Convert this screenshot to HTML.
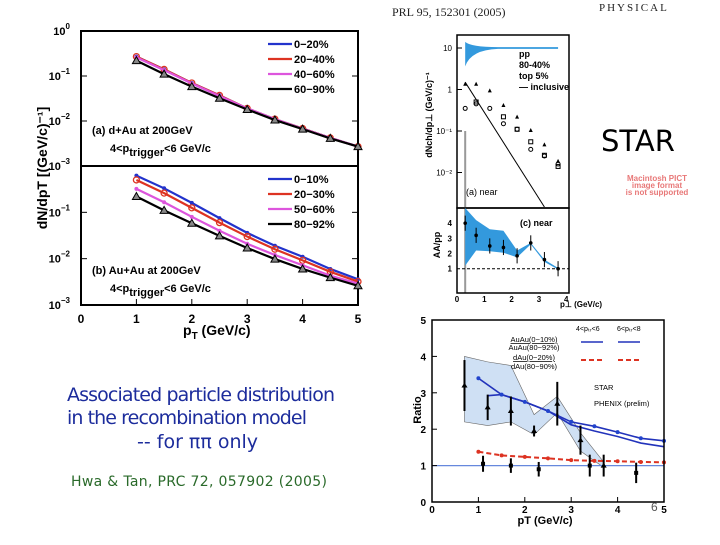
<!DOCTYPE html>
<html><head><meta charset="utf-8"><style>
body{margin:0;background:#fff;}
svg text{font-family:"Liberation Sans",sans-serif;}
</style></head><body>
<svg id="s" width="720" height="540" xmlns="http://www.w3.org/2000/svg">
<g id="left"></g>
<g id="star"></g>
<g id="ratio"></g>
<text x="67" y="401" font-size="19" fill="#1c2c9c" style="font-family:'DejaVu Sans',sans-serif" textLength="268">Associated particle distribution</text>
<text x="67" y="424" font-size="19" fill="#1c2c9c" style="font-family:'DejaVu Sans',sans-serif" textLength="240">in the recombination model</text>
<text x="137" y="448" font-size="19" fill="#1c2c9c" style="font-family:'DejaVu Sans',sans-serif">-- for ππ only</text>
<text x="71" y="486" font-size="14" fill="#2a6a2a" style="font-family:'DejaVu Sans',sans-serif" textLength="256">Hwa &amp; Tan, PRC 72, 057902 (2005)</text>
<text x="601" y="151" font-size="29" fill="#000" style="font-family:'DejaVu Sans',sans-serif">STAR</text>
<text x="657" y="181" font-size="8" fill="#e87878" text-anchor="middle" font-weight="bold">Macintosh PICT</text>
<text x="657" y="188" font-size="8" fill="#e87878" text-anchor="middle" font-weight="bold">image format</text>
<text x="657" y="195" font-size="8" fill="#e87878" text-anchor="middle" font-weight="bold">is not supported</text>
<text x="392" y="16" font-size="12" fill="#222" style="font-family:'Liberation Serif',serif">PRL 95, 152301 (2005)</text>
<text x="599" y="11" font-size="11" fill="#222" style="font-family:'Liberation Serif',serif" letter-spacing="2">PHYSICAL</text>
<text x="651" y="511" font-size="12" fill="#555">6</text>
</svg>
<script>
const NS="http://www.w3.org/2000/svg";
// ---- left chart data ----
const ptVals=[1,1.5,2,2.5,3,3.5,4,4.5,5];
const dAuLabels=["0−20%","20−40%","40−60%","60−90%"];
const dAu0=[0.27,0.14,0.07,0.037,0.019,0.011,0.0068,0.0042,0.0027];
const dAu1=[0.27,0.14,0.07,0.037,0.019,0.011,0.0068,0.0042,0.0027];
const dAu2=[0.26,0.135,0.068,0.036,0.019,0.011,0.0067,0.0042,0.0027];
const dAu3=[0.22,0.11,0.058,0.032,0.018,0.0105,0.0066,0.0041,0.0027];
const AuAuLabels=["0−10%","20−30%","50−60%","80−92%"];
const AuAu0=[0.62,0.33,0.16,0.075,0.036,0.019,0.011,0.006,0.0036];
const AuAu1=[0.5,0.26,0.125,0.06,0.03,0.016,0.0092,0.0052,0.0032];
const AuAu2=[0.32,0.165,0.08,0.04,0.021,0.012,0.0072,0.0043,0.0029];
const AuAu3=[0.22,0.11,0.058,0.031,0.017,0.0098,0.006,0.0039,0.0026];
const xTicks=[0,1,2,3,4,5];
// ---- ratio chart data ----
const rLine46x=[1.2,1.5,2,2.5,3,3.5,4,4.5,5];
const rLine46=[2.92,2.95,2.75,2.5,2.12,1.95,1.8,1.62,1.52];
const rLine68x=[1,1.5,2,2.5,3,3.5,4,4.5,5];
const rLine68=[3.4,2.95,2.75,2.5,2.2,2.08,1.92,1.75,1.68];
const rDAux=[1,1.5,2,2.5,3,3.5,4,4.5,5];
const rDAu=[1.38,1.28,1.24,1.2,1.15,1.13,1.12,1.1,1.09];
const starX=[0.7,1.2,1.7,2.2,2.7,3.2,3.7];
const starY=[3.2,2.6,2.5,1.95,2.7,1.7,1.0];
const starErr=[0.7,0.35,0.4,0.15,0.6,0.4,0.3];
const phenX=[1.1,1.7,2.3,3.4,4.4];
const phenY=[1.05,1.0,0.9,1.0,0.8];
const phenErr=[0.22,0.2,0.2,0.3,0.28];
const bandX=[0.7,1.2,1.7,2.2,2.7,3.2,3.7];
const bandHi=[4.0,3.85,3.75,2.4,2.9,1.9,1.1];
const bandLo=[2.2,2.1,2.2,1.85,2.45,1.4,0.95];
// ---- STAR chart data ----
const sPpX=[0.3,0.7,1.2,1.7,2.2,2.7,3.2,3.7];
const sPp=[0.35,0.45,0.35,0.15,0.11,0.036,0.025,0.016];
const sMidX=[0.7,1.7,2.2,2.7,3.2,3.7];
const sMid=[0.5,0.22,0.11,0.055,0.026,0.014];
const sTopX=[0.3,0.7,1.2,1.7,2.2,2.7,3.2,3.7];
const sTop=[1.3,1.3,0.9,0.4,0.21,0.1,0.045,0.018];
const cX=[0.3,0.7,1.2,1.7,2.2,2.7,3.2,3.7];
const cY=[4.0,3.2,2.5,2.4,1.85,2.7,1.6,1.0];
const cBandHi=[5,4.2,3.6,3.5,2.2,2.7,1.6,1.05];
const cBandLo=[1.2,2.2,2.15,2.05,1.75,2.6,1.45,0.95];

function el(parent,tag,attrs,name,inter){const e=document.createElementNS(NS,tag);for(const k in attrs)e.setAttribute(k,attrs[k]);


parent.appendChild(e);return e;}
function txt(p,x,y,s,opt,name){const t=el(p,'text',Object.assign({x:x,y:y},opt||{}),name,false);t.textContent=s;return t;}

// ===== left chart =====
const L=document.getElementById('left');
const lx=v=>81+v*(358-81)/5;
const panels=[{top:31,bot:166,labels:dAuLabels,series:[dAu0,dAu1,dAu2,dAu3],tag:"(a) d+Au at 200GeV",name:'dau'},
              {top:166,bot:305,labels:AuAuLabels,series:[AuAu0,AuAu1,AuAu2,AuAu3],tag:"(b) Au+Au at 200GeV",name:'auau'}];
const cols=["#2233cc","#dd3322","#dd55dd","#000"];
panels.forEach((P,pi)=>{
  const ly=v=>P.top+(-Math.log10(v))*(P.bot-P.top)/3;
  el(L,'rect',{x:81,y:P.top,width:277,height:P.bot-P.top,fill:'none',stroke:'#000','stroke-width':2},P.name+'-frame');
  for(let d=0;d<=3;d++){
    const y=P.top+d*(P.bot-P.top)/3;
    if(!(pi==1&&d==0)){const t=txt(L,70,y+4,"10",{'font-size':11,'font-weight':'bold','text-anchor':'end'},P.name+'-ytick-label');
      const s=document.createElementNS(NS,'tspan');s.setAttribute('dy','-6');s.setAttribute('font-size','8');s.textContent=d==0?"0":"−"+d;t.appendChild(s);}
    el(L,'line',{x1:81,x2:87,y1:y,y2:y,stroke:'#000'},P.name+'-ytick');
    el(L,'line',{x1:352,x2:358,y1:y,y2:y,stroke:'#000'},P.name+'-ytick');
  }
  P.series.forEach((ser,si)=>{
    const pts=ser.map((v,i)=>lx(ptVals[i])+','+ly(v)).join(' ');
    el(L,'polyline',{points:pts,fill:'none',stroke:cols[si],'stroke-width':2.2},P.name+'-line-'+si);
    ser.forEach((v,i)=>{const x=lx(ptVals[i]),y=ly(v);
      if(si==3)el(L,'polygon',{points:`${x},${y-4} ${x-4},${y+3} ${x+4},${y+3}`,fill:'#888',stroke:'#000'},P.name+'-marker');
      else if(si==1)el(L,'circle',{cx:x,cy:y,r:3,fill:'none',stroke:cols[si],'stroke-width':1.3},P.name+'-marker');
      else el(L,'circle',{cx:x,cy:y,r:2,fill:cols[si]},P.name+'-marker');});
  });
  P.labels.forEach((lab,i)=>{const y=P.top+13+i*15;
    el(L,'line',{x1:268,x2:292,y1:y,y2:y,stroke:cols[i],'stroke-width':2.2},P.name+'-legend-line');
    txt(L,294,y+4,lab,{'font-size':11,'font-weight':'bold'},P.name+'-legend-entry');});
  txt(L,92,P.top+(pi?108:103),P.tag,{'font-size':11,'font-weight':'bold'},P.name+'-panel-label');
  const t=txt(L,110,P.top+(pi?126:121),"4<p",{'font-size':11,'font-weight':'bold'},P.name+'-trigger-label');
  const s1=document.createElementNS(NS,'tspan');s1.setAttribute('dy','4');s1.textContent='trigger';t.appendChild(s1);
  const s2=document.createElementNS(NS,'tspan');s2.setAttribute('dy','-4');s2.textContent='<6 GeV/c';t.appendChild(s2);
});
xTicks.forEach(v=>{txt(L,lx(v),323,v,{'font-size':12,'font-weight':'bold','text-anchor':'middle'},'left-xtick-label');
  el(L,'line',{x1:lx(v),x2:lx(v),y1:299,y2:305,stroke:'#000'},'left-xtick');});
{const t=txt(L,183,335,"p",{'font-size':14,'font-weight':'bold'},'left-x-axis-title');const s=document.createElementNS(NS,'tspan');s.setAttribute('dy','4');s.setAttribute('font-size','10');s.textContent='T';t.appendChild(s);const s2=document.createElementNS(NS,'tspan');s2.setAttribute('dy','-4');s2.textContent=' (GeV/c)';t.appendChild(s2);}
txt(L,0,0,"dN/dpT [(GeV/c)⁻¹]",{'font-size':14,'font-weight':'bold','text-anchor':'middle',transform:'translate(47,168) rotate(-90)'},'left-y-axis-title');

// ===== STAR chart =====
const S=document.getElementById('star');
const sx=v=>457+v*(569-457)/4.1;
const sy=v=>48+(1-Math.log10(v))*41.5;
el(S,'rect',{x:457,y:35,width:112,height:173,fill:'none',stroke:'#000','stroke-width':1.5},'star-top-frame');
el(S,'path',{d:`M${sx(0.3)},${sy(14)} Q${sx(0.5)},${sy(10.5)} ${sx(1.5)},${sy(10.5)} L${sx(3.7)},${sy(10.5)} L${sx(3.7)},${sy(9.5)} L${sx(1.5)},${sy(9.5)} Q${sx(0.5)},${sy(9)} ${sx(0.3)},${sy(3.6)}Z`,fill:'#3399dd'},'star-pp-band');
el(S,'line',{x1:sx(0.3),y1:sy(1.5),x2:sx(3.2),y2:207,stroke:'#000'},'star-inclusive-line');
el(S,'line',{x1:sx(0.3),y1:sy(0.1),x2:sx(0.3),y2:293,stroke:'#999','stroke-width':2},'star-grey-bar');
sPp.forEach((v,i)=>el(S,'circle',{cx:sx(sPpX[i]),cy:sy(v),r:2,fill:'none',stroke:'#000'},'star-pp-marker'));
sMid.forEach((v,i)=>el(S,'rect',{x:sx(sMidX[i])-2,y:sy(v)-2,width:4,height:4,fill:'none',stroke:'#000'},'star-mid-marker'));
sTop.forEach((v,i)=>el(S,'polygon',{points:`${sx(sTopX[i])},${sy(v)-3} ${sx(sTopX[i])-2},${sy(v)+1} ${sx(sTopX[i])+2},${sy(v)+1}`,fill:'#000'},'star-top-marker'));
[[10,"10"],[1,"1"],[0.1,"10⁻¹"],[0.01,"10⁻²"]].forEach(([v,l])=>{txt(S,452,sy(v)+3,l,{'font-size':8,'text-anchor':'end'},'star-ytick-label');el(S,'line',{x1:457,x2:462,y1:sy(v),y2:sy(v),stroke:'#000'},'star-ytick');});
["pp","80-40%","top 5%","— inclusive"].forEach((l,i)=>txt(S,519,57+i*11,l,{'font-size':9,'font-weight':'bold'},'star-legend-entry'));
txt(S,466,195,"(a) near",{'font-size':9},'star-panel-a');
const cy=v=>208+(5-v)*(293-208)/5.6;
el(S,'rect',{x:457,y:208,width:112,height:85,fill:'none',stroke:'#000','stroke-width':1.5},'star-bottom-frame');
el(S,'path',{d:'M'+cX.map((x,i)=>sx(x)+','+cy(cBandHi[i])).join(' L')+' L'+cX.slice().reverse().map((x,i)=>sx(x)+','+cy(cBandLo[cX.length-1-i])).join(' L')+'Z',fill:'#3399dd'},'star-ratio-band');
el(S,'line',{x1:457,x2:569,y1:cy(1),y2:cy(1),stroke:'#000','stroke-dasharray':'3,2'},'star-unity-line');
cY.forEach((v,i)=>{el(S,'line',{x1:sx(cX[i]),x2:sx(cX[i]),y1:cy(v+0.5),y2:cy(v-0.5),stroke:'#000'},'star-errbar');el(S,'circle',{cx:sx(cX[i]),cy:cy(v),r:1.8,fill:'#000'},'star-ratio-marker');});
[1,2,3,4].forEach(v=>txt(S,452,cy(v)+3,v,{'font-size':8,'font-weight':'bold','text-anchor':'end'},'star-c-ytick-label'));
txt(S,520,226,"(c) near",{'font-size':9,'font-weight':'bold'},'star-panel-c');
[0,1,2,3,4].forEach(v=>txt(S,sx(v),302,v,{'font-size':8,'font-weight':'bold','text-anchor':'middle'},'star-xtick-label'));
txt(S,560,307,"p⊥   (GeV/c)",{'font-size':8,'font-weight':'bold'},'star-x-axis-title');
txt(S,0,0,"dNch/dp⊥   (GeV/c)⁻¹",{'font-size':9,'font-weight':'bold','text-anchor':'middle',transform:'translate(432,115) rotate(-90)'},'star-y-axis-title');
txt(S,0,0,"AA/pp",{'font-size':9,'font-weight':'bold','text-anchor':'middle',transform:'translate(440,245) rotate(-90)'},'star-c-y-axis-title');

// ===== ratio chart =====
const R=document.getElementById('ratio');
const rx=v=>432+v*(664-432)/5;
const ry=v=>502-v*(502-320)/5;
el(R,'path',{d:'M'+bandX.map((x,i)=>rx(x)+','+ry(bandHi[i])).join(' L')+' L'+bandX.slice().reverse().map((x,i)=>rx(x)+','+ry(bandLo[bandX.length-1-i])).join(' L')+'Z',fill:'#cfe0f4',stroke:'#666','stroke-width':0.6},'ratio-star-band');
el(R,'line',{x1:rx(0),x2:rx(5),y1:ry(1),y2:ry(1),stroke:'#6688dd','stroke-width':1.3},'ratio-unity-line');
el(R,'polyline',{points:rLine46x.map((x,i)=>rx(x)+','+ry(rLine46[i])).join(' '),fill:'none',stroke:'#2233bb','stroke-width':1.6},'ratio-line-4-6');
el(R,'polyline',{points:rLine68x.map((x,i)=>rx(x)+','+ry(rLine68[i])).join(' '),fill:'none',stroke:'#2233bb','stroke-width':1.6},'ratio-line-6-8');
rLine68.forEach((v,i)=>el(R,'circle',{cx:rx(rLine68x[i]),cy:ry(v),r:2,fill:'#2244cc'},'ratio-6-8-marker'));
el(R,'polyline',{points:rDAux.map((x,i)=>rx(x)+','+ry(rDAu[i])).join(' '),fill:'none',stroke:'#dd3322','stroke-width':2,'stroke-dasharray':'5,3'},'ratio-dau-line');
rDAu.forEach((v,i)=>el(R,'circle',{cx:rx(rDAux[i]),cy:ry(v),r:2,fill:'#dd3322'},'ratio-dau-marker'));
starY.forEach((v,i)=>{el(R,'line',{x1:rx(starX[i]),x2:rx(starX[i]),y1:ry(v+starErr[i]),y2:ry(v-starErr[i]),stroke:'#000','stroke-width':2},'ratio-star-errbar');
  el(R,'polygon',{points:`${rx(starX[i])},${ry(v)-3} ${rx(starX[i])-3},${ry(v)+2} ${rx(starX[i])+3},${ry(v)+2}`,fill:'#000'},'ratio-star-marker');});
phenY.forEach((v,i)=>{el(R,'line',{x1:rx(phenX[i]),x2:rx(phenX[i]),y1:ry(v+phenErr[i]),y2:ry(v-phenErr[i]),stroke:'#000','stroke-width':2},'ratio-phenix-errbar');
  el(R,'rect',{x:rx(phenX[i])-2,y:ry(v)-2,width:4,height:4,fill:'#000'},'ratio-phenix-marker');});
el(R,'rect',{x:432,y:320,width:232,height:182,fill:'none',stroke:'#000','stroke-width':1.5},'ratio-frame');
[0,1,2,3,4,5].forEach(v=>{txt(R,rx(v),513,v,{'font-size':10,'font-weight':'bold','text-anchor':'middle'},'ratio-xtick-label');
  txt(R,426,ry(v)+4,v,{'font-size':10,'font-weight':'bold','text-anchor':'end'},'ratio-ytick-label');
  el(R,'line',{x1:432,x2:437,y1:ry(v),y2:ry(v),stroke:'#000'},'ratio-ytick');
  el(R,'line',{x1:rx(v),x2:rx(v),y1:497,y2:502,stroke:'#000'},'ratio-xtick');});
txt(R,545,524,"pT (GeV/c)",{'font-size':11,'font-weight':'bold','text-anchor':'middle'},'ratio-x-axis-title');
txt(R,0,0,"Ratio",{'font-size':11,'font-weight':'bold','text-anchor':'middle',transform:'translate(421,410) rotate(-90)'},'ratio-y-axis-title');
txt(R,534,342,"AuAu(0−10%)",{'font-size':7.5,'text-anchor':'middle','text-decoration':'underline'},'ratio-legend-text');
txt(R,534,350,"AuAu(80−92%)",{'font-size':7.5,'text-anchor':'middle'},'ratio-legend-text');
txt(R,534,360,"dAu(0−20%)",{'font-size':7.5,'text-anchor':'middle','text-decoration':'underline'},'ratio-legend-text');
txt(R,534,369,"dAu(80−90%)",{'font-size':7.5,'text-anchor':'middle'},'ratio-legend-text');
txt(R,576,331,"4<pₜᵣ<6",{'font-size':7},'ratio-legend-header');
txt(R,617,331,"6<pₜᵣ<8",{'font-size':7},'ratio-legend-header');
el(R,'line',{x1:581,x2:603,y1:342,y2:342,stroke:'#2233bb','stroke-width':1.5},'ratio-legend-line');
el(R,'line',{x1:618,x2:640,y1:342,y2:342,stroke:'#2233bb','stroke-width':1.5},'ratio-legend-line');
el(R,'line',{x1:581,x2:603,y1:360,y2:360,stroke:'#dd3322','stroke-width':2,'stroke-dasharray':'5,3'},'ratio-legend-line');
el(R,'line',{x1:618,x2:640,y1:360,y2:360,stroke:'#dd3322','stroke-width':2,'stroke-dasharray':'5,3'},'ratio-legend-line');
txt(R,594,390,"STAR",{'font-size':7.5},'ratio-legend-star');
txt(R,594,406,"PHENIX (prelim)",{'font-size':7.5},'ratio-legend-phenix');
</script>
</body></html>
